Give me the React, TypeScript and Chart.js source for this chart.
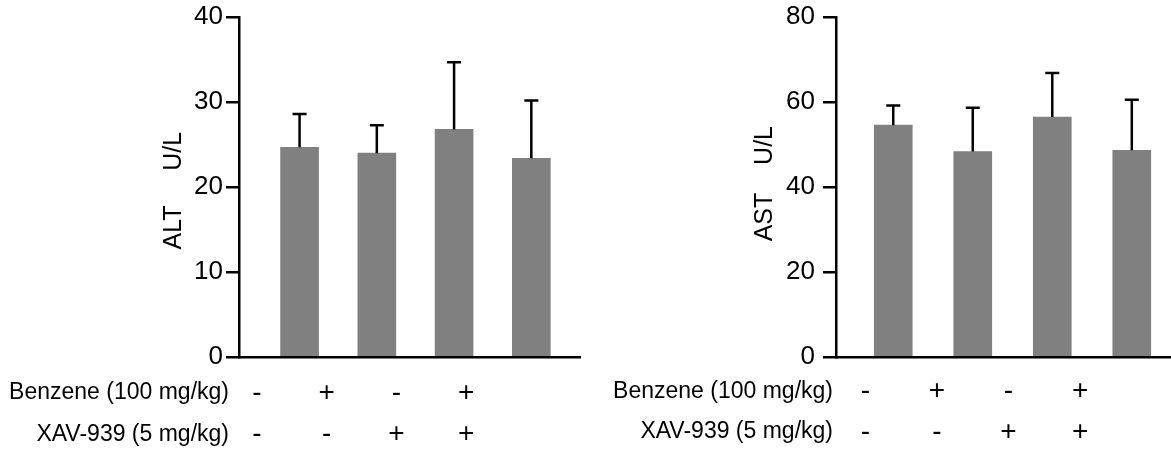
import { useEffect, useRef } from "react";
import { Chart, registerables } from "chart.js";

Chart.register(...registerables);

// Treatment groups (x positions on the linear axis) and their +/- legend rows
const groups = [1, 2, 3, 4];
const benzeneLabel = "Benzene (100 mg/kg)";
const benzeneSigns = ["-", "+", "-", "+"];
const xavLabel = "XAV-939 (5 mg/kg)";
const xavSigns = ["-", "-", "+", "+"];

// Serum ALT (U/L): mean and SD per group
const altMean = [24.7, 24.0, 26.8, 23.4];
const altSD = [3.9, 3.3, 7.9, 6.8];
const altTicks = [0, 10, 20, 30, 40];

// Serum AST (U/L): mean and SD per group
const astMean = [54.6, 48.4, 56.5, 48.7];
const astSD = [4.6, 10.3, 10.4, 11.9];
const astTicks = [0, 20, 40, 60, 80];

const FONT = '"Liberation Sans", Arial, Helvetica, sans-serif';
const HEIGHT = 459;

type PanelSpec = {
  title: string;
  mean: number[];
  sd: number[];
  ticks: number[];
  left: number;
  width: number;
  axisLeft: number;
  padRight: number;
  xMin: number;
  xMax: number;
  titlePad: number;
  tickPad: number;
  labelGap: number;
  signStart: number;
  signStep: number;
  rowY: number[];
};

const panels: PanelSpec[] = [
  {
    title: "ALT     U/L ",
    mean: altMean,
    sd: altSD,
    ticks: altTicks,
    left: 0,
    width: 590,
    axisLeft: 239,
    padRight: 10,
    xMin: 0.216,
    xMax: 4.63,
    titlePad: 159.5,
    tickPad: 3,
    labelGap: 10,
    signStart: 18,
    signStep: 69.7,
    rowY: [393, 434.7],
  },
  {
    title: " AST    U/L",
    mean: astMean,
    sd: astSD,
    ticks: astTicks,
    left: 590,
    width: 581,
    axisLeft: 246,
    padRight: 0,
    xMin: 0.28,
    xMax: 4.493,
    titlePad: 160,
    tickPad: 8,
    labelGap: 3,
    signStart: 29.3,
    signStep: 71.6,
    rowY: [391.3, 432],
  },
];

function Panel({ spec }: { spec: PanelSpec }) {
  const ref = useRef<HTMLCanvasElement>(null);

  useEffect(() => {
    const canvas = ref.current;
    if (!canvas) return;

    // Upward-only SD whiskers with a short cap
    const errorBars = {
      id: "errorBars",
      afterDatasetsDraw(chart: any) {
        const { ctx } = chart;
        const yScale = chart.scales.y;
        const meta = chart.getDatasetMeta(0);
        ctx.save();
        ctx.strokeStyle = "#000";
        ctx.lineWidth = 2.5;
        spec.mean.forEach((m, i) => {
          const cx = meta.data[i].x;
          const yBase = yScale.getPixelForValue(m);
          const yTop = yScale.getPixelForValue(m + spec.sd[i]);
          ctx.beginPath();
          ctx.moveTo(cx, yBase);
          ctx.lineTo(cx, yTop);
          ctx.moveTo(cx - 7, yTop);
          ctx.lineTo(cx + 7, yTop);
          ctx.stroke();
        });
        ctx.restore();
      },
    };

    // Treatment table under the x axis
    const treatmentRows = {
      id: "treatmentRows",
      afterDraw(chart: any) {
        const { ctx, chartArea } = chart;
        const rows: [string, string[]][] = [
          [benzeneLabel, benzeneSigns],
          [xavLabel, xavSigns],
        ];
        ctx.save();
        ctx.fillStyle = "#000";
        ctx.textBaseline = "middle";
        rows.forEach(([label, signs], r) => {
          const y = spec.rowY[r];
          ctx.font = `23px ${FONT}`;
          ctx.textAlign = "right";
          ctx.fillText(label, chartArea.left - spec.labelGap, y);
          ctx.font = `28px ${FONT}`;
          ctx.textAlign = "center";
          signs.forEach((s, i) => {
            ctx.fillText(s, chartArea.left + spec.signStart + i * spec.signStep, y);
          });
        });
        ctx.restore();
      },
    };

    const chart = new Chart(canvas, {
      type: "bar",
      data: {
        datasets: [
          {
            data: groups.map((g, i) => ({ x: g, y: spec.mean[i] })),
            backgroundColor: "#808080",
            borderWidth: 0,
            barThickness: 38,
          },
        ],
      },
      options: {
        responsive: false,
        animation: false,
        devicePixelRatio: 1,
        layout: { padding: { top: 17.3, right: spec.padRight, bottom: 0, left: 0 } },
        plugins: {
          legend: { display: false },
          tooltip: { enabled: false },
        },
        scales: {
          x: {
            type: "linear",
            min: spec.xMin,
            max: spec.xMax,
            offset: false,
            grid: { display: false },
            ticks: { display: false },
            border: { color: "#000", width: 2.5 },
            afterFit: (s: any) => {
              s.height = 102;
              s.paddingLeft = 0;
              s.paddingRight = 0;
            },
          },
          y: {
            type: "linear",
            min: spec.ticks[0],
            max: spec.ticks[spec.ticks.length - 1],
            afterBuildTicks: (s: any) => {
              s.ticks = spec.ticks.map((v) => ({ value: v }));
            },
            afterFit: (s: any) => {
              s.width = spec.axisLeft;
              s.paddingTop = 0;
              s.paddingBottom = 0;
            },
            grid: {
              drawOnChartArea: false,
              drawTicks: true,
              tickLength: 13,
              color: "#000",
              lineWidth: 2.5,
            },
            border: { color: "#000", width: 2.5 },
            ticks: {
              color: "#000",
              font: { family: FONT, size: 26 },
              padding: spec.tickPad,
            },
            title: {
              display: true,
              text: spec.title,
              color: "#000",
              font: { family: FONT, size: 25 },
              padding: { top: spec.titlePad, bottom: 0 },
            },
          },
        },
      } as any,
      plugins: [errorBars, treatmentRows],
    });

    return () => chart.destroy();
  }, [spec]);

  return (
    <canvas
      ref={ref}
      width={spec.width}
      height={HEIGHT}
      style={{
        position: "absolute",
        left: spec.left,
        top: 0,
        width: spec.width,
        height: HEIGHT,
      }}
    />
  );
}

export default function App() {
  return (
    <div
      style={{
        position: "absolute",
        left: 0,
        top: 0,
        width: 1171,
        height: HEIGHT,
        background: "#fff",
      }}
    >
      {panels.map((p) => (
        <Panel key={p.title} spec={p} />
      ))}
    </div>
  );
}
